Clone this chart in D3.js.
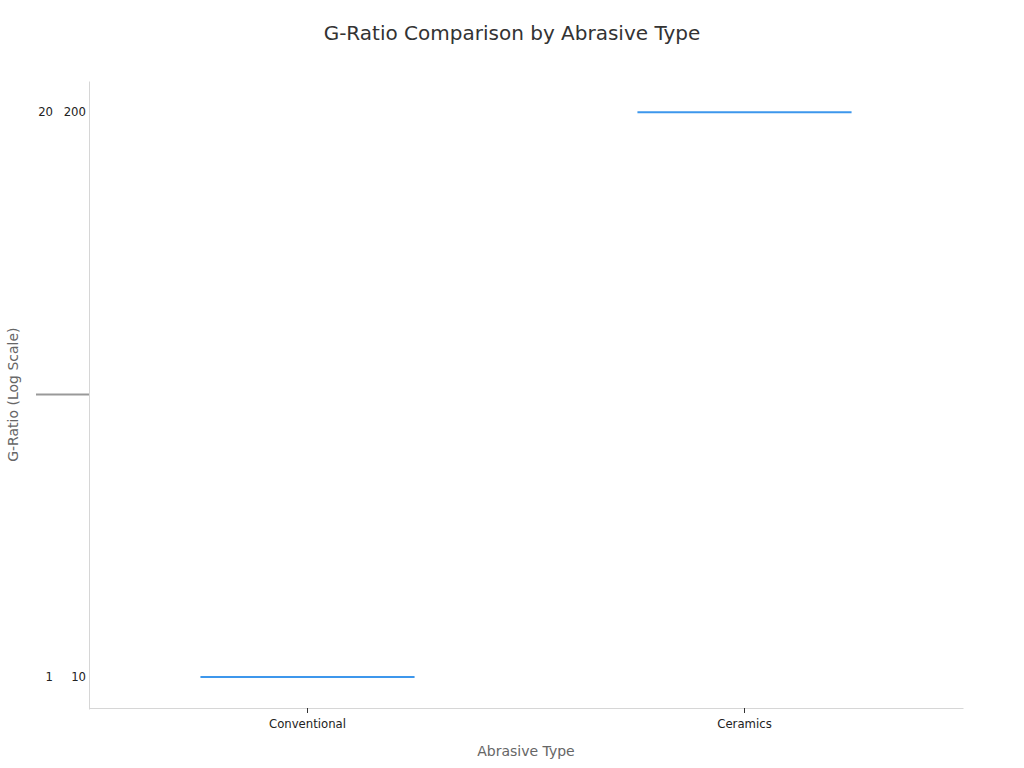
<!DOCTYPE html>
<html>
<head>
<meta charset="utf-8">
<script src="https://cdn.jsdelivr.net/npm/d3@7"></script>
<style>
  body { margin: 0; background: #fff; }
  text { font-family: "DejaVu Sans", sans-serif; }
</style>
</head>
<body>
<div id="chart"></div>
<script>
// chart data
var categories = ["Conventional", "Ceramics"];
var gRatios = [10, 200];
var relativeRatios = [1, 20]; // relative to conventional

var width = 1024, height = 768;
var margin = {top: 80, right: 61, bottom: 60, left: 89};

var svg = d3.select("#chart").append("svg")
    .attr("width", width)
    .attr("height", height);

var x = d3.scaleBand()
    .domain(categories)
    .range([margin.left, width - margin.right]);

var y = d3.scaleLog()
    .domain([8.44, 236])
    .range([height - margin.bottom + 1, margin.top + 1]);

// title
svg.append("text")
    .attr("x", width / 2)
    .attr("y", 40)
    .attr("text-anchor", "middle")
    .attr("font-size", 20)
    .attr("fill", "#333")
    .text("G-Ratio Comparison by Abrasive Type");

// x axis
var xAxis = svg.append("g")
    .attr("transform", "translate(0," + (height - margin.bottom) + ")")
    .call(d3.axisBottom(x).tickSize(5).tickSizeOuter(0));
xAxis.select(".domain").attr("stroke", "#d6d6d6");
xAxis.selectAll(".tick line").attr("stroke", "#333");
xAxis.selectAll(".tick text")
    .attr("font-size", 11.7)
    .attr("fill", "#222")
    .attr("dy", "1.05em");

// y axis (values)
var yAxis = svg.append("g")
    .attr("transform", "translate(" + margin.left + ",0)")
    .call(d3.axisLeft(y).tickValues(gRatios).tickFormat(d3.format("d")).tickSize(0).tickPadding(3));
yAxis.select(".domain").attr("stroke", "#d6d6d6");
yAxis.selectAll(".tick text").attr("font-size", 11.7).attr("fill", "#222");

// second label column (relative ratio)
svg.selectAll(".rel-label")
    .data(relativeRatios)
    .enter()
    .append("text")
    .attr("class", "rel-label")
    .attr("x", 53)
    .attr("y", function(d, i) { return y(gRatios[i]); })
    .attr("dy", "0.32em")
    .attr("text-anchor", "end")
    .attr("font-size", 11.7)
    .attr("fill", "#222")
    .text(function(d) { return d; });

// reference mark at geometric mean
var geoMean = Math.sqrt(d3.extent(gRatios)[0] * d3.extent(gRatios)[1]);
svg.append("line")
    .attr("x1", 36)
    .attr("x2", margin.left)
    .attr("y1", y(geoMean))
    .attr("y2", y(geoMean))
    .attr("stroke", "#999")
    .attr("stroke-width", 2);

// value marks
var barW = x.bandwidth() * 0.49;
svg.selectAll(".val")
    .data(categories)
    .enter()
    .append("line")
    .attr("class", "val")
    .attr("x1", function(d) { return x(d) + x.bandwidth() / 2 - barW / 2; })
    .attr("x2", function(d) { return x(d) + x.bandwidth() / 2 + barW / 2; })
    .attr("y1", function(d, i) { return y(gRatios[i]); })
    .attr("y2", function(d, i) { return y(gRatios[i]); })
    .attr("stroke", "#3d97ec")
    .attr("stroke-width", 2);

// axis titles
svg.append("text")
    .attr("x", (margin.left + width - margin.right) / 2)
    .attr("y", 756)
    .attr("text-anchor", "middle")
    .attr("font-size", 14)
    .attr("fill", "#666")
    .text("Abrasive Type");

svg.append("text")
    .attr("transform", "translate(17.5," + y(geoMean) + ") rotate(-90)")
    .attr("text-anchor", "middle")
    .attr("font-size", 14)
    .attr("fill", "#666")
    .text("G-Ratio (Log Scale)");
</script>
</body>
</html>
